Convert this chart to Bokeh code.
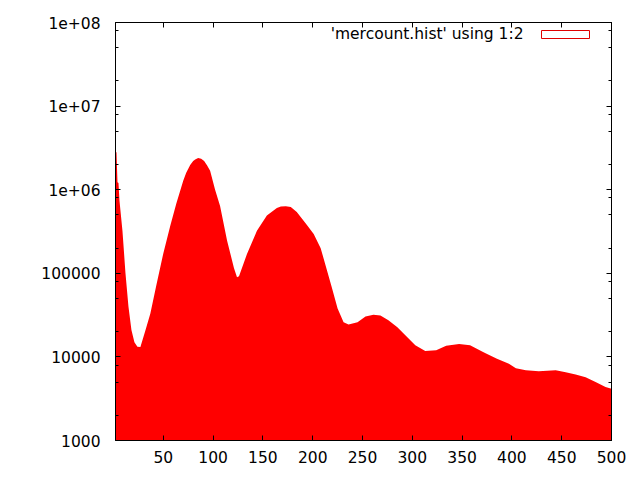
from bokeh.plotting import figure
from bokeh.models import (Range1d, FixedTicker, LogAxis, LinearAxis, Label,
                          BoxAnnotation, ColumnDataSource)
from bokeh.embed import file_html
from bokeh.resources import INLINE

# ---- data ----
bins = [2, 3, 4, 5, 6, 9, 12, 15, 18, 21, 24, 27, 32, 37, 43, 50, 57, 63, 70,
        73, 77, 80, 82, 85, 88, 91, 94, 97, 102, 107, 114, 121, 124, 126, 134,
        144, 154, 164, 168, 173, 178, 184, 194, 201, 208, 219, 225, 231, 236,
        245, 253, 261, 268, 276, 285, 295, 303, 313, 324, 334, 347, 358, 372,
        385, 397, 404, 414, 427, 444, 454, 464, 474, 484, 494, 500]
counts = [2.8e6, 2.8e6, 1.23e6, 1.2e6, 7.4e5, 3.2e5, 1.01e5, 4.0e4, 2.1e4,
          1.5e4, 1.32e4, 1.31e4, 2.07e4, 3.3e4, 7.2e4, 1.73e5, 3.7e5, 6.8e5,
          1.28e6, 1.6e6, 1.97e6, 2.2e6, 2.3e6, 2.4e6, 2.35e6, 2.2e6, 1.95e6,
          1.68e6, 1.0e6, 6.4e5, 2.47e5, 1.15e5, 9.0e4, 9.2e4, 1.7e5, 3.22e5,
          4.9e5, 6.05e5, 6.3e5, 6.35e5, 6.2e5, 5.4e5, 3.8e5, 2.95e5, 2.0e5,
          6.9e4, 3.8e4, 2.6e4, 2.44e4, 2.6e4, 3.04e4, 3.2e4, 3.13e4, 2.74e4,
          2.27e4, 1.72e4, 1.38e4, 1.18e4, 1.2e4, 1.36e4, 1.43e4, 1.38e4,
          1.13e4, 9.5e3, 8.3e3, 7.3e3, 6.9e3, 6.75e3, 6.9e3, 6.55e3, 6.15e3,
          5.7e3, 5.0e3, 4.35e3, 4.15e3]

x_ticks = [50, 100, 150, 200, 250, 300, 350, 400, 450, 500]
y_ticks = [1000, 10000, 100000, 1000000, 10000000, 100000000]
y_tick_labels = ["1000", "10000", "100000", "1e+06", "1e+07", "1e+08"]
y_minor_ticks = [m * 10 ** k for k in range(3, 8) for m in (2, 5, 8)]
legend_label = "'mercount.hist' using 1:2"

FONT = "DejaVu Sans"
FONT_SIZE = "15.5px"

src = ColumnDataSource(data=dict(x=bins, y=counts))

p = figure(frame_width=496, frame_height=418,
           x_range=Range1d(2, 500), y_range=Range1d(1000, 100000000),
           y_axis_type="log", output_backend="svg", toolbar_location=None,
           min_border_left=115, min_border_right=21,
           min_border_top=22, min_border_bottom=32)
p.background_fill_color = "white"
p.border_fill_color = "white"
p.grid.visible = False
p.outline_line_color = "black"
p.outline_line_width = 1

p.varea(x="x", y1=1, y2="y", source=src, fill_color="#ff0000")


def style_axis(ax, show_labels=True):
    ax.axis_line_color = "black"
    ax.major_tick_line_color = "black"
    ax.minor_tick_line_color = "black"
    ax.major_tick_in = 5
    ax.major_tick_out = 0
    ax.minor_tick_in = 3
    ax.minor_tick_out = 0
    ax.major_label_text_font = FONT
    if show_labels:
        ax.major_label_text_font_size = FONT_SIZE
        ax.major_label_text_color = "black"
    else:
        ax.major_label_text_font_size = "0px"
        ax.major_label_text_color = None


# left (log) axis
ya = p.yaxis[0]
ya.ticker = FixedTicker(ticks=y_ticks, minor_ticks=y_minor_ticks)
ya.major_label_overrides = {t: l for t, l in zip(y_ticks, y_tick_labels)}
style_axis(ya)
ya.major_label_standoff = 15

# bottom axis
xa = p.xaxis[0]
xa.ticker = FixedTicker(ticks=x_ticks, minor_ticks=[])
style_axis(xa)
xa.major_label_standoff = 10

# mirrored axes
ra = LogAxis(ticker=FixedTicker(ticks=y_ticks, minor_ticks=y_minor_ticks))
style_axis(ra, show_labels=False)
p.add_layout(ra, "right")
ta = LinearAxis(ticker=FixedTicker(ticks=x_ticks, minor_ticks=[]))
style_axis(ta, show_labels=False)
p.add_layout(ta, "above")

# key: text on the left, outlined sample box on the right (gnuplot style)
p.add_layout(Label(x=408, y=407, x_units="screen", y_units="screen",
                   text=legend_label, text_align="right",
                   text_baseline="middle", text_font=FONT,
                   text_font_size=FONT_SIZE, text_color="black"))
p.add_layout(BoxAnnotation(left=426, right=474, bottom=402, top=410,
                           left_units="screen", right_units="screen",
                           bottom_units="screen", top_units="screen",
                           fill_color=None, line_color="#e00000",
                           line_width=1, line_alpha=1.0))

open("out.html", "w").write(file_html(p, INLINE))
